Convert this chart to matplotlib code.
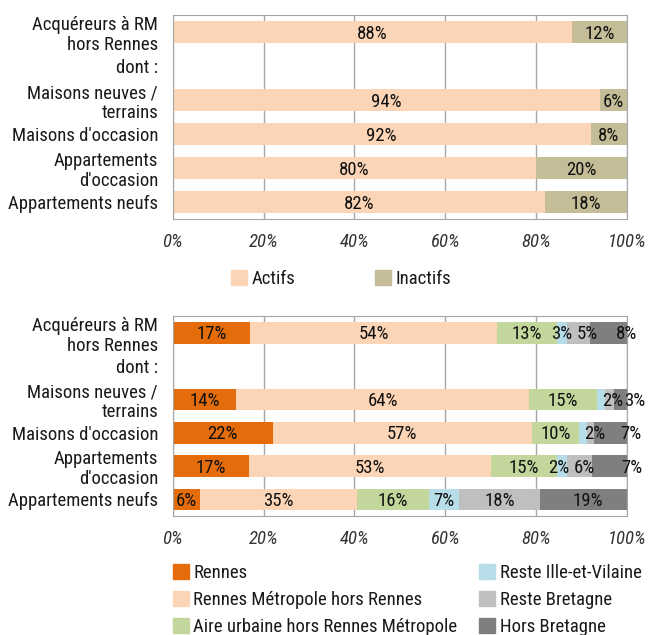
import matplotlib
matplotlib.use('Agg')
import matplotlib.pyplot as plt
from matplotlib.patches import Patch
import numpy as np

plt.rcParams['font.family'] = ['Roboto Condensed', 'DejaVu Sans']

categories = ['Acquéreurs à RM\nhors Rennes', 'dont :', 'Maisons neuves /\nterrains',
              "Maisons d'occasion", 'Appartements\nd\'occasion', 'Appartements neufs']

# top chart: activity
actifs = [88, None, 94, 92, 80, 82]
inactifs = [12, None, 6, 8, 20, 18]

# bottom chart: origin of buyers
series_names = ['Rennes', 'Rennes Métropole hors Rennes', 'Aire urbaine hors Rennes Métropole',
                'Reste Ille-et-Vilaine', 'Reste Bretagne', 'Hors Bretagne']
rennes = [17, None, 14, 22, 16.7, 5.9]
rm_hors = [54.4, None, 64.5, 57, 53.3, 34.7]
aire = [13.1, None, 14.9, 10.5, 14.7, 15.9]
reste_iv = [2.4, None, 1.8, 1.6, 2.2, 6.6]
reste_bzh = [5.0, None, 2.0, 1.6, 5.5, 17.7]
hors_bzh = [8.1, None, 2.8, 7.3, 7.6, 19.2]
labels_bottom = [
    ['17%', '54%', '13%', '3%', '5%', '8%'],
    None,
    ['14%', '64%', '15%', '', '2%', '3%'],
    ['22%', '57%', '10%', '', '2%', '7%'],
    ['17%', '53%', '15%', '2%', '6%', '7%'],
    ['6%', '35%', '16%', '7%', '18%', '19%'],
]

top_colors = ['#FBD5B5', '#C4BD97']
bot_colors = ['#E46C0A', '#FBD5B5', '#C3D69B', '#B7DEE8', '#BFBFBF', '#7F7F7F']

# nudges of the small labels (in % units), as in the original layout
label_nudge = [
    [0, 0, 0, 0, 1.9, 4.0],
    None,
    [0, 0, 0, 0, 0.6, 3.0],
    [0, 0, 0, 0, 1.1, 4.6],
    [0, 0, 0, -0.8, 0.9, 4.8],
    [0, 0, 0, 0, 0, 1.0],
]

FS = 13.5
W, H = 648, 635

fig = plt.figure(figsize=(6.48, 6.35), dpi=100)
ax1 = fig.add_axes([172.7 / W, 1 - 219 / H, (627 - 172.7) / W, 204 / H])
ax2 = fig.add_axes([172.7 / W, 1 - 516 / H, (627 - 172.7) / W, 200 / H])

def style_axis(ax):
    ax.set_xlim(0, 100)
    ax.set_ylim(len(categories) - 0.5, -0.5)
    ax.set_yticks(range(len(categories)))
    ax.set_yticklabels(categories, fontsize=FS, color='#1a1a1a', linespacing=1.15)
    ax.set_xticks([0, 20, 40, 60, 80, 100])
    ax.set_xticklabels(['0%', '20%', '40%', '60%', '80%', '100%'], fontsize=FS,
                       style='italic', color='#333333')
    ax.tick_params(length=0)
    ax.tick_params(axis='y', pad=10.5)
    ax.tick_params(axis='x', pad=10)
    ax.grid(axis='x', color='#A6A6A6', linewidth=1)
    ax.set_axisbelow(True)
    for s in ax.spines.values():
        s.set_color('#A6A6A6')

h = 0.65
for i in range(len(categories)):
    if actifs[i] is None:
        continue
    left = 0
    for v, c in zip([actifs[i], inactifs[i]], top_colors):
        ax1.barh(i, v, left=left, height=h, color=c, edgecolor='none')
        ax1.text(left + v / 2, i + 0.05, '%d%%' % v, ha='center', va='center',
                 fontsize=FS, color='#111111')
        left += v
style_axis(ax1)

for i in range(len(categories)):
    if rennes[i] is None:
        continue
    vals = [rennes[i], rm_hors[i], aire[i], reste_iv[i], reste_bzh[i], hors_bzh[i]]
    left = 0
    for j, (v, c, lab) in enumerate(zip(vals, bot_colors, labels_bottom[i])):
        ax2.barh(i, v, left=left, height=h, color=c, edgecolor='none')
        if lab:
            ax2.text(left + v / 2 + label_nudge[i][j], i + 0.05, lab, ha='center', va='center',
                     fontsize=FS, color='#111111', clip_on=False)
        left += v
style_axis(ax2)

def legend_entry(color, label, x, y):
    leg = fig.legend(handles=[Patch(color=color, label=label)], loc='center left',
                     bbox_to_anchor=(x / W, 1 - y / H), frameon=False, fontsize=FS,
                     handlelength=0.85, handleheight=0.8, handletextpad=0.25,
                     borderpad=0, borderaxespad=0)
    for t in leg.get_texts():
        t.set_color('#1a1a1a')

legend_entry(top_colors[0], 'Actifs', 231, 279)
legend_entry(top_colors[1], 'Inactifs', 375, 279)

for k, (c, n) in enumerate(zip(bot_colors, series_names)):
    x = 172.7 if k < 3 else 479
    y = 573 + 27 * (k % 3)
    legend_entry(c, n, x, y)

fig.savefig('out.png', dpi=100)
